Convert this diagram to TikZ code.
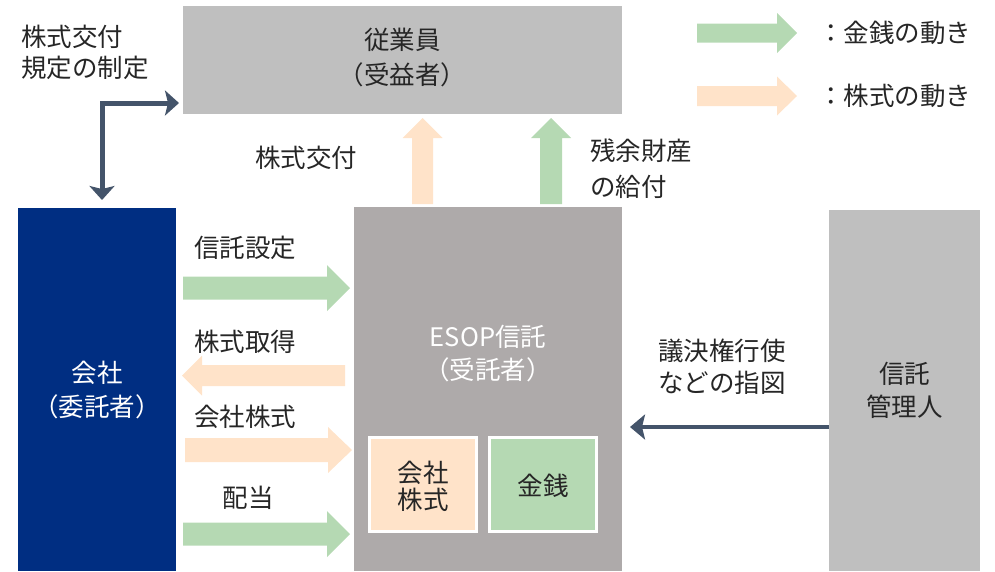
\documentclass[tikz,border=0pt]{standalone}
\usepackage{fontspec}
\setmainfont{Noto Sans CJK JP}
\usetikzlibrary{arrows.meta}
\definecolor{topgray}{RGB}{191,191,191}
\definecolor{navy}{RGB}{0,46,130}
\definecolor{esopgray}{RGB}{174,170,170}
\definecolor{peach}{RGB}{255,227,201}
\definecolor{mint}{RGB}{181,217,179}
\definecolor{slate}{RGB}{68,84,106}
\definecolor{txt}{RGB}{38,38,38}
% horizontal block arrow: style, x0, xbase, xtip, ymid, shaft half, head half
\newcommand\hblock[7]{\fill[#1] (#2,#5-#6) -- (#3,#5-#6) -- (#3,#5-#7) -- (#4,#5) -- (#3,#5+#7) -- (#3,#5+#6) -- (#2,#5+#6) -- cycle;}
% vertical block arrow: style, y0, ybase, ytip, xmid, shaft half, head half
\newcommand\vblock[7]{\fill[#1] (#5-#6,#2) -- (#5-#6,#3) -- (#5-#7,#3) -- (#5,#4) -- (#5+#7,#3) -- (#5+#6,#3) -- (#5+#6,#2) -- cycle;}
\newcommand\fs[1]{\fontsize{25.5}{#1}\selectfont}
\begin{document}
\begin{tikzpicture}[x=1pt,y=-1pt,
  lbl/.style={text=txt,font=\fs{32},inner sep=0pt,align=center},
  lbll/.style={lbl,align=left},
  wlbl/.style={lbl,text=white},
  box/.style={inner sep=0pt,outer sep=0pt},
  conn/.style={draw=slate,line width=4.5pt,-{Stealth[length=15pt,width=25pt,inset=3pt]}},
  connb/.style={draw=slate,line width=5pt,{Stealth[length=14pt,width=25pt,inset=3pt]}-{Stealth[length=14pt,width=25pt,inset=3pt]}}]
\useasboundingbox (0,0) rectangle (995,571);
% boxes
\fill[topgray] (183,6) rectangle (622,114);
\node[box] (emp) at (402.5,60) {};
\fill[navy] (18,208) rectangle (176,571);
\fill[esopgray] (354,207) rectangle (622,571);
\fill[topgray] (829,210) rectangle (980,571);
\coordinate (mgr) at (829,427);
\coordinate (esopR) at (630,427);
\fill[peach,draw=white,line width=3pt] (369.5,437.5) rectangle (476.5,531.5);
\fill[mint,draw=white,line width=3pt] (489.5,437.5) rectangle (596.5,531.5);
% box texts
\node[lbl,font=\fs{35}] (tEmp) at (402.5,57.5) {従業員\\（受益者）};
\node[wlbl,font=\fs{34}] (tCo) at (97,390) {会社\\（委託者）};
\node[wlbl,font=\fs{33}] (tEsop) at (488,354) {ESOP信託\\（受託者）};
\node[lbl,font=\fs{33}] (tMgr) at (904.5,390.5) {信託\\管理人};
\node[lbl,font=\fs{27}] (tStock) at (423,486.5) {会社\\株式};
\node[lbl] (tCash) at (543,486) {金銭};
% L connector
\coordinate (lstart) at (102,200);
\coordinate (lend) at (179,103);
\draw[connb] (lstart) |- (lend);
\node[lbll,font=\fs{31},anchor=west] (tRule) at (21,52.5) {株式交付\\規定の制定};
% voting connector
\draw[conn] (mgr) -- (esopR);
\node[lbll,font=\fs{32},anchor=west] (tVote) at (658,367) {議決権行使\\などの指図};
% horizontal block arrows
\hblock{mint}{183}{327}{350}{288}{11.5}{23}
\hblock{peach}{345}{202}{182}{375.5}{10.5}{20}
\hblock{peach}{185}{328}{352}{450}{12}{23}
\hblock{mint}{183}{327}{350}{534}{11.5}{23}
\node[lbl] (tSet) at (245,248) {信託設定};
\node[lbl] (tAcq) at (245,342) {株式取得};
\node[lbl] (tCoSt) at (245,417) {会社株式};
\node[lbl] (tDiv) at (248,498) {配当};
% vertical block arrows
\vblock{peach}{204}{138}{118}{422.5}{10.5}{20}
\vblock{mint}{204}{138}{118}{551}{11}{20}
\node[lbl] (tGive) at (306,158) {株式交付};
\node[lbll,font=\fs{36},anchor=west] (tRes) at (590,169) {残余財産\\の給付};
% legend
\hblock{mint}{697}{777}{797}{33}{9.5}{20}
\hblock{peach}{697}{777}{797}{96}{10}{19.5}
\node[lbl,anchor=west] (lg1) at (818,33) {：金銭の動き};
\node[lbl,anchor=west] (lg2) at (818,96) {：株式の動き};
\end{tikzpicture}
\end{document}
